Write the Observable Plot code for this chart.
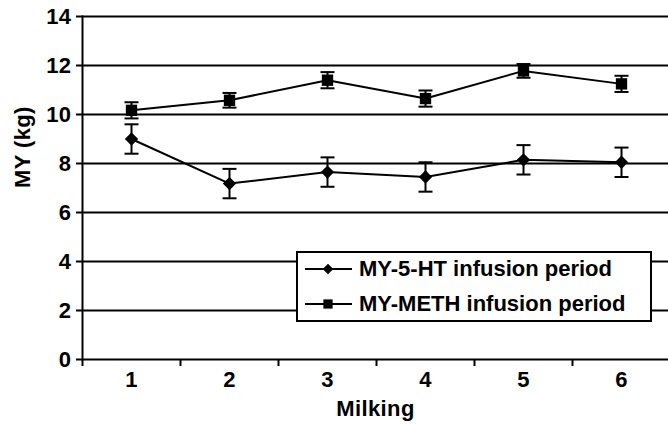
<!DOCTYPE html>
<html>
<head>
<meta charset="utf-8">
<script src="https://cdn.jsdelivr.net/npm/d3@7"></script>
<script src="https://cdn.jsdelivr.net/npm/@observablehq/plot@0.6"></script>
<style>
  html, body { margin: 0; padding: 0; background: #fff; }
  #wrap { position: relative; width: 668px; height: 425px; overflow: hidden; font-family: "Liberation Sans", Arial, sans-serif; }
  #wrap svg text { font-size: 22px; font-weight: bold; letter-spacing: 0.4px; }
  #legend { position: absolute; left: 296px; top: 251px; width: 352px; height: 67px; border: 2px solid #000; background: #fff; }
  .item { position: absolute; left: 5px; height: 30px; display: flex; align-items: center; font-weight: bold; font-size: 22px; letter-spacing: 0px; white-space: nowrap; }
  .item svg { margin-right: 6px; }
</style>
</head>
<body>
<div id="wrap"></div>
<script>
const milking = [1, 2, 3, 4, 5, 6];
const htMean = [9.0, 7.18, 7.65, 7.45, 8.15, 8.05];
const htErr = [0.6, 0.6, 0.6, 0.6, 0.6, 0.6];
const methMean = [10.17, 10.58, 11.4, 10.65, 11.78, 11.25];
const methErr = [0.33, 0.3, 0.33, 0.33, 0.28, 0.33];
const yTicks = [0, 2, 4, 6, 8, 10, 12, 14];
const xBoundaries = [0.5, 1.5, 2.5, 3.5, 4.5, 5.5];
const seriesNames = ["MY-5-HT infusion period", "MY-METH infusion period"];
const seriesSymbols = ["diamond2", "square"];
const xTitle = "Milking";
const yTitle = "MY (kg)";

const data = [];
milking.forEach((m, i) => {
  data.push({m, series: seriesNames[0], v: htMean[i], e: htErr[i]});
  data.push({m, series: seriesNames[1], v: methMean[i], e: methErr[i]});
});

const cap = {draw(ctx) { ctx.moveTo(-7, 0); ctx.lineTo(7, 0); }};

const chart = Plot.plot({
  width: 668,
  height: 425,
  marginLeft: 82,
  marginRight: 0,
  marginTop: 16,
  marginBottom: 66,
  style: {fontFamily: "'Liberation Sans', Arial, sans-serif", fontWeight: "bold", fontSize: "22px", color: "#000", background: "#fff"},
  x: {domain: [0.5, 6.5], range: [82, 670]},
  y: {domain: [0, 14]},
  symbol: {domain: seriesNames, range: seriesSymbols},
  marks: [
    Plot.ruleY(yTicks.filter(d => d > 0), {y: d => d, stroke: "#000", strokeWidth: 2}),
    Plot.axisY({ticks: yTicks, tickSize: 6, tickPadding: 5, tickFormat: d => String(d), label: null, stroke: "#000", strokeWidth: 2, fontSize: 22}),
    Plot.axisX({ticks: xBoundaries, tickSize: 7, tickFormat: () => "", label: null, stroke: "#000", strokeWidth: 2}),
    Plot.axisX({ticks: milking, tickSize: 0, tickPadding: 12, tickFormat: d => String(d), label: null, fontSize: 22}),
    Plot.frame({anchor: "left", stroke: "#000", strokeWidth: 2}),
    Plot.ruleY([0], {stroke: "#000", strokeWidth: 2}),
    Plot.ruleX(data, {x: "m", y1: d => d.v - d.e, y2: d => d.v + d.e, stroke: "#000", strokeWidth: 2}),
    Plot.dot(data, {x: "m", y: d => d.v - d.e, symbol: () => cap, r: 5, stroke: "#000", strokeWidth: 2, fill: "none"}),
    Plot.dot(data, {x: "m", y: d => d.v + d.e, symbol: () => cap, r: 5, stroke: "#000", strokeWidth: 2, fill: "none"}),
    Plot.line(data, {x: "m", y: "v", z: "series", stroke: "#000", strokeWidth: 2}),
    Plot.dot(data.filter(d => d.series === seriesNames[0]), {x: "m", y: "v", symbol: "diamond2", r: 6, fill: "#000", stroke: "none"}),
    Plot.dot(data.filter(d => d.series === seriesNames[1]), {x: "m", y: "v", symbol: "square", r: 6.4, fill: "#000", stroke: "none"}),
    Plot.text([yTitle], {frameAnchor: "left", dx: -60, rotate: -90, text: d => d, fontSize: 22, fontWeight: "bold"}),
    Plot.text([xTitle], {frameAnchor: "bottom", dy: 56, text: d => d, fontSize: 22, fontWeight: "bold"})
  ]
});

const wrap = document.getElementById("wrap");
wrap.appendChild(chart);

// Legend drawn with d3 symbols
const legend = document.createElement("div");
legend.id = "legend";
seriesNames.forEach((name, i) => {
  const item = document.createElement("div");
  item.className = "item";
  item.style.top = (i === 0 ? 1 : 36) + "px";
  const sym = i === 0 ? d3.symbolDiamond2 : d3.symbolSquare;
  const size = i === 0 ? Math.PI * 4.8 * 4.8 : Math.PI * 5.2 * 5.2;
  const svg = d3.create("svg").attr("width", 50).attr("height", 20);
  svg.append("line").attr("x1", 2).attr("x2", 49).attr("y1", 10).attr("y2", 10).attr("stroke", "#000").attr("stroke-width", 2);
  svg.append("path").attr("d", d3.symbol(sym, size)()).attr("transform", "translate(25,10)").attr("fill", "#000");
  item.appendChild(svg.node());
  const span = document.createElement("span");
  span.textContent = name;
  item.appendChild(span);
  legend.appendChild(item);
});
wrap.appendChild(legend);
</script>
</body>
</html>
